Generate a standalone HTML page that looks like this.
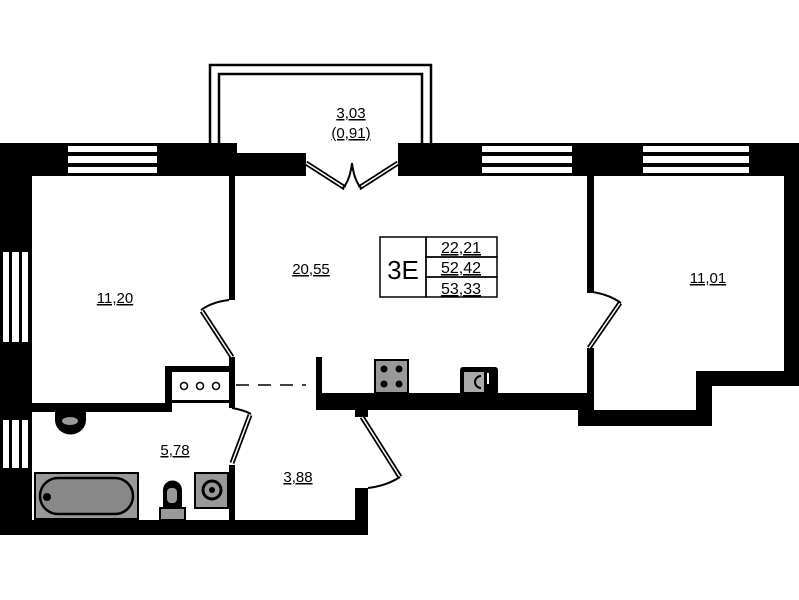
<!DOCTYPE html>
<html><head><meta charset="utf-8"><style>
html,body{margin:0;padding:0;background:#fff;width:799px;height:600px;overflow:hidden}
text{font-family:"Liberation Sans",sans-serif;fill:#000}
</style></head><body>
<svg width="799" height="600" viewBox="0 0 799 600" xmlns="http://www.w3.org/2000/svg">
<!-- balcony -->
<rect x="210" y="65" width="221" height="90" fill="none" stroke="#000" stroke-width="2.5"/>
<rect x="219" y="74" width="203" height="85" fill="none" stroke="#000" stroke-width="2.5"/>
<rect x="238" y="150" width="160" height="26" fill="#fff"/>
<!-- top wall -->
<rect x="0" y="143" width="237" height="33" fill="#000"/>
<rect x="237" y="153" width="69" height="23" fill="#000"/>
<rect x="398" y="143" width="401" height="33" fill="#000"/>
<!-- top windows stripes -->
<g fill="#fff">
<rect x="68" y="146" width="89" height="6"/><rect x="68" y="156" width="89" height="7"/><rect x="68" y="167" width="89" height="6"/>
<rect x="482" y="146" width="90" height="6"/><rect x="482" y="156" width="90" height="7"/><rect x="482" y="167" width="90" height="6"/>
<rect x="643" y="146" width="106" height="6"/><rect x="643" y="156" width="106" height="7"/><rect x="643" y="167" width="106" height="6"/>
</g>
<!-- balcony door -->
<g fill="none" stroke="#000" stroke-width="5"><path d="M306 163 L345 188 M398 163 L359 188"/></g>
<g fill="none" stroke="#fff" stroke-width="1.5"><path d="M306 163 L345 188 M398 163 L359 188"/></g>
<path d="M343 188 Q350 180 352 163 Q354 180 361 188" fill="none" stroke="#000" stroke-width="2"/>
<!-- left outer wall -->
<rect x="0" y="143" width="32" height="392" fill="#000"/>
<g fill="#fff"><rect x="3" y="252" width="6" height="90"/><rect x="12" y="252" width="7" height="90"/><rect x="22" y="252" width="6" height="90"/>
<rect x="3" y="420" width="6" height="48"/><rect x="12" y="420" width="7" height="48"/><rect x="22" y="420" width="6" height="48"/></g>
<!-- bottom wall -->
<rect x="0" y="520" width="368" height="15" fill="#000"/>
<rect x="355" y="488" width="13" height="47" fill="#000"/>
<rect x="355" y="400" width="13" height="17" fill="#000"/>
<!-- kitchen bottom wall -->
<rect x="316" y="393" width="278" height="17" fill="#000"/>
<rect x="316" y="357" width="6" height="43" fill="#000"/>
<!-- wall kitchen/right room -->
<rect x="587" y="176" width="7" height="117" fill="#000"/>
<rect x="587" y="348" width="7" height="62" fill="#000"/>
<!-- right room walls -->
<rect x="784" y="143" width="15" height="243" fill="#000"/>
<rect x="696" y="371" width="103" height="15" fill="#000"/>
<rect x="696" y="371" width="16" height="55" fill="#000"/>
<rect x="578" y="410" width="134" height="16" fill="#000"/>
<!-- left room/living wall -->
<rect x="229" y="176" width="6" height="124" fill="#000"/>
<rect x="229" y="357" width="6" height="51" fill="#000"/>
<rect x="229" y="465" width="6" height="56" fill="#000"/>
<!-- niche & left room bottom wall -->
<rect x="165" y="366" width="70" height="6" fill="#000"/>
<rect x="165" y="366" width="7" height="46" fill="#000"/>
<rect x="32" y="403" width="140" height="9" fill="#000"/>
<rect x="172" y="400" width="60" height="3" fill="#000"/>
<g fill="none" stroke="#000" stroke-width="1.5"><circle cx="184" cy="386" r="3.5"/><circle cx="200" cy="386" r="3.5"/><circle cx="216" cy="386" r="3.5"/></g>
<path d="M236 385 H306" stroke="#000" stroke-width="1.5" stroke-dasharray="13 9"/>
<!-- doors -->
<g fill="none" stroke="#000" stroke-width="5"><path d="M202 311 L232 357 M620 303 L589 348 M250 415 L232 463 M362 417 L400 477"/></g>
<g fill="none" stroke="#fff" stroke-width="1.5"><path d="M202 311 L232 357 M620 303 L589 348 M250 415 L232 463 M362 417 L400 477"/></g>
<g fill="none" stroke="#000" stroke-width="2"><path d="M229 300 Q212 302 201 310 M593 292 Q610 295 621 303 M232 408 Q244 410 251 414 M400 477 Q386 486 368 488"/></g>
<!-- fixtures -->
<rect x="375" y="360" width="33" height="33" fill="#999" stroke="#000" stroke-width="2"/>
<g fill="#000"><circle cx="384" cy="369" r="3.5"/><circle cx="399" cy="369" r="3.5"/><circle cx="384" cy="384" r="3.5"/><circle cx="399" cy="384" r="3.5"/></g>
<rect x="460" y="367" width="38" height="28" rx="3" fill="#000"/>
<rect x="464" y="372" width="20" height="20" fill="#aaa"/>
<path d="M481 376 A6 6 0 1 0 481 388" fill="none" stroke="#000" stroke-width="2"/>
<rect x="487" y="373" width="2" height="11" fill="#fff"/>
<path d="M55 412 H86 V420 A15 14 0 0 1 55 420 Z" fill="#000"/>
<ellipse cx="70" cy="421" rx="8" ry="4" fill="#999"/>
<rect x="35" y="473" width="103" height="46" fill="#999" stroke="#000" stroke-width="2"/>
<rect x="40" y="478" width="93" height="36" rx="18" fill="#888" stroke="#000" stroke-width="2.5"/>
<circle cx="47" cy="497" r="4" fill="#000"/>
<rect x="160" y="508" width="25" height="12" fill="#999" stroke="#000" stroke-width="2"/>
<path d="M163 507 V490 A9 9 0 0 1 182 490 V507 Z" fill="#000"/>
<rect x="167" y="488" width="10" height="15" rx="4" fill="#999"/>
<rect x="195" y="473" width="33" height="35" fill="#999" stroke="#000" stroke-width="2"/>
<circle cx="212" cy="490" r="9" fill="none" stroke="#000" stroke-width="3"/>
<circle cx="212" cy="490" r="3" fill="#000"/>
<!-- label table -->
<g fill="none" stroke="#000" stroke-width="1.5">
<rect x="380" y="237" width="46" height="60"/>
<rect x="426" y="237" width="71" height="20"/><rect x="426" y="257" width="71" height="20"/><rect x="426" y="277" width="71" height="20"/>
</g>
<text x="403" y="279" font-size="26" text-anchor="middle">3E</text>
<g font-size="16" text-anchor="middle" text-decoration="underline">
<text x="461" y="253">22,21</text><text x="461" y="273">52,42</text><text x="461" y="294">53,33</text>
</g>
<g font-size="15" text-anchor="middle" text-decoration="underline">
<text x="351" y="118">3,03</text>
<text x="351" y="138">(0,91)</text>
<text x="311" y="274">20,55</text>
<text x="115" y="303">11,20</text>
<text x="708" y="283">11,01</text>
<text x="175" y="455">5,78</text>
<text x="298" y="482">3,88</text>
</g>
</svg>
</body></html>
